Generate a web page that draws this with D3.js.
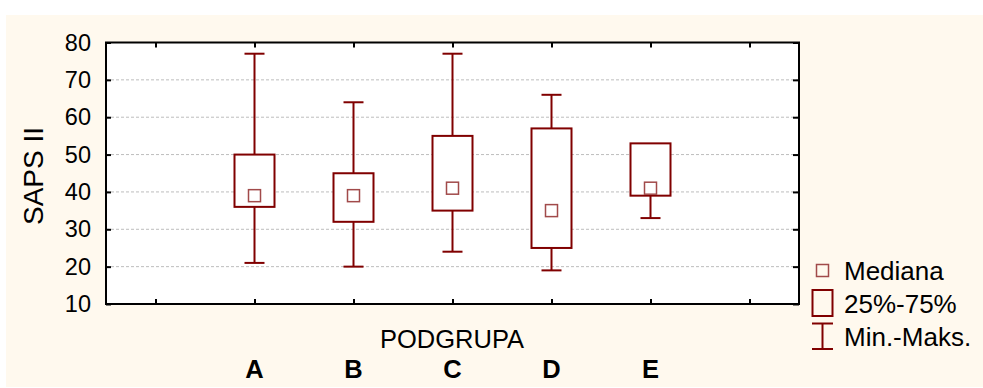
<!DOCTYPE html>
<html>
<head>
<meta charset="utf-8">
<script src="https://cdn.jsdelivr.net/npm/d3@7"></script>
<style>
  body { margin: 0; background: #fff; }
  svg { display: block; font-family: "Liberation Sans", Arial, sans-serif; }
</style>
</head>
<body>
<script>
// data
var groups  = ["A", "B", "C", "D", "E"];
var minVals = [21, 20, 24, 19, 33];
var q1Vals  = [36, 32, 35, 25, 39];
var medians = [39, 39, 41, 35, 41];
var q3Vals  = [50, 45, 55, 57, 53];
var maxVals = [77, 64, 77, 66, 53];
var yTicks  = [10, 20, 30, 40, 50, 60, 70, 80];
var legendLabels = ["Mediana", "25%-75%", "Min.-Maks."];

var W = 983, H = 388;
var pLeft = 106, pRight = 799, pTop = 42.5, pBottom = 304;
var red = "#800000", medRed = "#a14a4a";

var svg = d3.select("body").append("svg")
    .attr("width", W)
    .attr("height", H);

svg.append("rect")
    .attr("x", 6).attr("y", 15)
    .attr("width", W - 6).attr("height", H - 16)
    .attr("fill", "#fff9ee");

svg.append("rect")
    .attr("x", pLeft).attr("y", pTop)
    .attr("width", pRight - pLeft).attr("height", pBottom - pTop)
    .attr("fill", "#fff");

// blank slots at both ends, like the original
var slots = ["_l"].concat(groups, ["_r"]);
var x = d3.scalePoint().domain(slots).range([pLeft, pRight]).padding(0.5);
var y = d3.scaleLinear().domain([10, 80]).range([pBottom, pTop]);

// grid
svg.append("g").selectAll("line")
    .data(yTicks.filter(function (d) { return d > 10 && d < 80; }))
    .enter().append("line")
    .attr("x1", pLeft).attr("x2", pRight)
    .attr("y1", function (d) { return y(d); })
    .attr("y2", function (d) { return y(d); })
    .attr("stroke", "#bdbdbd")
    .attr("stroke-width", 1)
    .attr("stroke-dasharray", "3,2");

// boxes
var rows = groups.map(function (g, i) {
    return {g: g, min: minVals[i], q1: q1Vals[i], med: medians[i], q3: q3Vals[i], max: maxVals[i]};
});

var box = svg.append("g").selectAll("g")
    .data(rows).enter().append("g")
    .attr("transform", function (d) { return "translate(" + x(d.g) + ",0)"; });

box.append("line")
    .attr("x1", 0).attr("x2", 0)
    .attr("y1", function (d) { return y(d.max); })
    .attr("y2", function (d) { return y(d.min); })
    .attr("stroke", red).attr("stroke-width", 2);

box.filter(function (d) { return d.max > d.q3; }).append("line")
    .attr("x1", -10).attr("x2", 10)
    .attr("y1", function (d) { return y(d.max); })
    .attr("y2", function (d) { return y(d.max); })
    .attr("stroke", red).attr("stroke-width", 2);

box.append("line")
    .attr("x1", -10).attr("x2", 10)
    .attr("y1", function (d) { return y(d.min); })
    .attr("y2", function (d) { return y(d.min); })
    .attr("stroke", red).attr("stroke-width", 2);

box.append("rect")
    .attr("x", -20).attr("width", 40)
    .attr("y", function (d) { return y(d.q3); })
    .attr("height", function (d) { return y(d.q1) - y(d.q3); })
    .attr("fill", "#fff")
    .attr("stroke", red).attr("stroke-width", 2);

box.append("rect")
    .attr("x", -6).attr("width", 12)
    .attr("y", function (d) { return y(d.med) - 6; })
    .attr("height", 12)
    .attr("fill", "#fff")
    .attr("stroke", medRed).attr("stroke-width", 1.5);

// frame and axes
var ax = svg.append("g");

var yAxis = d3.axisLeft(y).tickValues(yTicks).tickSize(-5).tickPadding(15);
ax.append("g").attr("transform", "translate(" + pLeft + ",0)").call(yAxis);
ax.append("g").attr("transform", "translate(" + pRight + ",0)")
    .call(d3.axisRight(y).tickValues(yTicks).tickSize(-6).tickFormat(""));
ax.append("g").attr("transform", "translate(0," + pBottom + ")")
    .call(d3.axisBottom(x).tickSize(-5).tickFormat(""));
ax.append("g").attr("transform", "translate(0," + pTop + ")")
    .call(d3.axisTop(x).tickSize(-5).tickFormat(""));

ax.selectAll(".domain").remove();
ax.selectAll(".tick line").attr("stroke", "#000").attr("stroke-width", 2);
ax.selectAll(".tick text")
    .attr("font-family", "Liberation Sans, Arial, sans-serif")
    .attr("font-size", 23.5).attr("fill", "#000");

svg.append("rect")
    .attr("x", pLeft).attr("y", pTop)
    .attr("width", pRight - pLeft).attr("height", pBottom - pTop)
    .attr("fill", "none")
    .attr("stroke", "#000").attr("stroke-width", 2);

// axis titles
svg.append("text")
    .attr("transform", "translate(43,176) rotate(-90)")
    .attr("text-anchor", "middle")
    .attr("font-size", 28)
    .text("SAPS II");

svg.append("text")
    .attr("x", 452).attr("y", 347.5)
    .attr("text-anchor", "middle")
    .attr("font-size", 25.5)
    .text("PODGRUPA");

svg.append("g").selectAll("text")
    .data(groups).enter().append("text")
    .attr("x", function (d) { return x(d); })
    .attr("y", 378)
    .attr("text-anchor", "middle")
    .attr("font-size", 25.5)
    .attr("font-weight", "bold")
    .text(function (d) { return d; });

// legend
var lg = svg.append("g");
lg.append("rect")
    .attr("x", 816.5).attr("y", 264.5).attr("width", 12).attr("height", 12)
    .attr("fill", "none").attr("stroke", medRed).attr("stroke-width", 1.5);
lg.append("rect")
    .attr("x", 812.5).attr("y", 290).attr("width", 20).attr("height", 26)
    .attr("fill", "none").attr("stroke", red).attr("stroke-width", 2);
lg.append("line").attr("x1", 812).attr("x2", 833).attr("y1", 323.5).attr("y2", 323.5)
    .attr("stroke", red).attr("stroke-width", 2);
lg.append("line").attr("x1", 812).attr("x2", 833).attr("y1", 349).attr("y2", 349)
    .attr("stroke", red).attr("stroke-width", 2);
lg.append("line").attr("x1", 822.5).attr("x2", 822.5).attr("y1", 323.5).attr("y2", 349)
    .attr("stroke", red).attr("stroke-width", 2);

lg.selectAll("text")
    .data(legendLabels).enter().append("text")
    .attr("x", 844)
    .attr("y", function (d, i) { return 279.5 + i * 33; })
    .attr("font-size", 26)
    .text(function (d) { return d; });
</script>
</body>
</html>
